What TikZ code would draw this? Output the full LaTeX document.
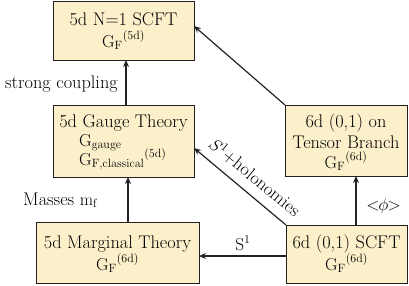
\documentclass[tikz,border=0pt]{standalone}
\usetikzlibrary{arrows.meta}
\definecolor{boxfill}{HTML}{FCF0CB}
\definecolor{boxline}{HTML}{222222}
\tikzset{
  theorybox/.style={draw=boxline, line width=1.3pt, fill=boxfill, inner sep=0pt, anchor=north west},
  conn/.style={-{Stealth[length=7pt,width=6pt]}, line width=1.2pt, draw=boxline},
  lbl/.style={font=\fontsize{18.3}{20}\selectfont, inner sep=0pt},
  boxtext/.style={font=\fontsize{18.3}{20}\selectfont, inner sep=0pt, anchor=base}
}
\newcommand{\GF}[1]{$\mathrm{G_F}^{(\mathrm{#1})}$}
\begin{document}
\begin{tikzpicture}[x=1pt,y=-1pt]
\useasboundingbox (0,0) rectangle (409,285);
% boxes
\node[theorybox, minimum width=141pt, minimum height=59pt] (top) at (53,1) {};
\node[theorybox, minimum width=141pt, minimum height=72pt] (gauge) at (53,105) {};
\node[theorybox, minimum width=163pt, minimum height=61pt] (marg) at (36,222) {};
\node[theorybox, minimum width=122pt, minimum height=71pt] (tens) at (285,105) {};
\node[theorybox, minimum width=121pt, minimum height=58pt] (six) at (286,225) {};
% texts
\node[boxtext] (ttop1) at (123.5,25) {5d N=1 SCFT};
\node[boxtext] (ttop2) at (123.5,47) {\GF{5d}};
\node[boxtext] (tgauge1) at (123.5,127) {5d Gauge Theory};
\node[boxtext, anchor=base west] (tgauge2) at (79,146) {$\mathrm{G_{gauge}}$};
\node[boxtext, anchor=base west] (tgauge3) at (79,165) {$\mathrm{G_{F,classical}}^{(\mathrm{5d})}$};
\node[boxtext] (tmarg1) at (117.5,248) {5d Marginal Theory};
\node[boxtext] (tmarg2) at (117.5,270) {\GF{6d}};
\node[boxtext] (ttens1) at (346,127) {6d (0,1) on};
\node[boxtext] (ttens2) at (346,148) {Tensor Branch};
\node[boxtext] (ttens3) at (346,168) {\GF{6d}};
\node[boxtext] (tsix1) at (346.5,248) {6d (0,1) SCFT};
\node[boxtext] (tsix2) at (346.5,270) {\GF{6d}};
% connectors
\draw[conn] (126,105) -- (126,60);
\draw[conn] (128,222) -- (128,177);
\draw[conn] (286,256) -- (199,256);
\draw[conn] (356,225) -- (356,176);
\draw[conn] (six.north west) -- (194,148);
\draw[conn] (tens.north west) -- (194,26);
% labels
\node[lbl, anchor=base east] (l1) at (118,88) {strong coupling};
\node[lbl, anchor=base west] (l2) at (23,205) {Masses $\mathrm{m_f}$};
\node[lbl, anchor=base] (l3) at (243,250) {$\mathrm{S}^1$};
\node[lbl, anchor=base] (l4) at (383.5,210) {$<\!\!\phi\!\!>$};
\node[lbl, rotate=-39.5] (l5) at (255,177) {$S^1$+holonomies};
\end{tikzpicture}
\end{document}
